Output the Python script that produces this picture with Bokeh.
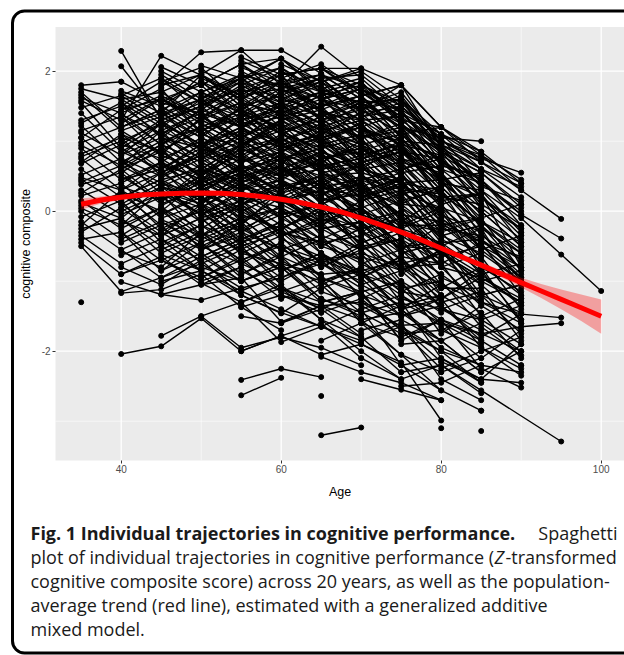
from bokeh.plotting import figure
from bokeh.models import Range1d, FixedTicker, Label, BoxAnnotation, LinearAxis
from bokeh.embed import file_html
from bokeh.resources import INLINE

# ---------------- data ----------------
wave_step = 5  # years between waves

# each inner list: one participant, values at consecutive 5-year waves from the cohort's first age
cohort_35 = [
    [1.80, 1.85, 1.55, 1.40, 1.20], [1.75, 1.60, 1.70, 1.95, 1.50], [1.70, 1.20, 1.45, 1.10, 0.90],
    [1.62, 1.40, 0.95, 1.30, 1.05], [1.55, 0.90, 1.25, 0.80], [1.48, 1.65, 1.30, 1.50, 1.75],
    [1.40, 0.85, 0.60, 0.95, 0.70], [1.30, 1.50, 1.10, 0.75], [1.22, 0.70, 1.00, 1.20, 0.85],
    [1.15, 1.35, 0.80, 0.55, 0.90], [1.05, 0.60, 0.95, 0.70, 0.40], [0.98, 1.20, 1.40, 1.05],
    [0.90, 0.45, 0.70, 0.30, 0.55], [0.82, 1.05, 0.50, 0.80, 0.60], [0.75, 0.30, 0.55, 0.85],
    [0.68, 0.95, 0.75, 0.40, 0.15], [0.60, 0.20, 0.45, 0.60, 0.30], [0.52, 0.75, 0.25, 0.05, 0.35],
    [0.45, 0.10, 0.40, 0.15], [0.38, 0.55, 0.10, 0.35, -0.10], [0.30, -0.05, 0.20, -0.15, 0.05],
    [0.22, 0.40, -0.10, 0.10, -0.30], [0.15, -0.25, 0.05, -0.35], [0.08, 0.25, -0.20, 0.00, -0.45],
    [0.00, -0.40, -0.15, -0.50, -0.25], [-0.08, 0.15, -0.45, -0.20], [-0.15, -0.55, -0.30, -0.65, -0.40],
    [-0.25, -0.10, -0.60, -0.35, -0.70], [-0.35, -0.75, -0.50, -0.85], [-0.45, -0.90, -0.70, -1.00, -0.80],
    [-0.50, -1.15, -0.95, -0.75, -1.10], [-1.30],
    [1.58, 1.30, 1.62, 1.15, 1.35], [1.26, 1.55, 1.05, 1.45], [0.94, 0.65, 1.15, 0.90, 0.62],
    [0.70, 1.10, 0.85, 0.50, 0.95], [0.48, 0.30, 0.70, 0.45, 0.20], [0.26, 0.60, 0.15, 0.50],
    [0.04, -0.20, 0.30, -0.05, 0.25], [-0.20, 0.30, -0.25, -0.55, -0.15], [-0.40, -0.30, -0.85, -0.45, -0.95],
    [1.05, 1.45, 1.60, 1.30],
    [1.66, 1.15, 1.35, 1.60, 1.25], [1.12, 0.80, 1.25, 0.95, 1.15], [0.78, 1.00, 0.60, 0.95, 0.50],
    [0.42, 0.65, 0.35, 0.10, 0.45], [0.12, -0.10, 0.35, 0.20, -0.20], [-0.30, 0.05, -0.35, -0.10, -0.55],
]
cohort_40 = [
    [2.29, 1.30, 1.55, 1.20, 1.45], [2.07, 1.35, 1.70, 1.90], [1.30, 2.22, 1.94, 1.60, 1.85],
    [1.72, 1.50, 1.85, 1.40, 1.20], [1.65, 1.90, 1.40, 1.70], [1.55, 1.20, 1.60, 1.25, 0.95],
    [1.45, 1.75, 1.10, 0.90, 1.30], [1.35, 0.95, 1.30, 1.55, 1.10], [1.20, 1.45, 0.85, 1.15],
    [1.10, 0.70, 1.05, 0.75, 0.50], [1.00, 1.25, 0.95, 0.60, 0.85], [0.90, 0.55, 0.80, 1.10, 0.70],
    [0.80, 1.05, 0.45, 0.75], [0.70, 0.40, 0.65, 0.30, 0.55], [0.60, 0.85, 0.50, 0.20, 0.05],
    [0.50, 0.15, 0.45, 0.60, 0.25], [0.40, 0.70, 0.20, -0.10], [0.30, -0.05, 0.25, 0.05, -0.30],
    [0.20, 0.45, -0.15, 0.15, -0.20], [0.10, -0.30, 0.05, -0.40, -0.15], [0.00, 0.25, -0.35, -0.10, -0.55],
    [-0.10, -0.50, -0.20, -0.60], [-0.20, 0.05, -0.55, -0.30, -0.80], [-0.30, -0.70, -0.45, -0.90, -0.60],
    [-0.45, -0.20, -0.75, -0.50, -1.05], [-0.55, -0.95, -0.65, -1.00], [-0.63, -0.40, -0.85, -1.14, -0.90],
    [-0.80, -1.05, -0.70, -1.20, -1.45], [-1.01, -1.19, -1.27, -1.10, -0.95], [-1.17, -1.12, -0.90, -1.37, -1.70],
    [-2.04, -1.93, -1.53, -2.00, -1.78], [1.85],
    [1.68, 1.40, 1.95, 1.65, 1.45], [1.50, 1.85, 1.55, 1.35, 1.70], [1.38, 1.10, 1.45, 1.80, 1.50],
    [1.25, 1.60, 1.25, 0.95], [1.05, 0.85, 1.20, 1.45, 1.00], [0.85, 1.15, 0.60, 0.95, 1.25],
    [0.65, 0.95, 0.70, 0.40, 0.75], [0.45, 0.60, 0.05, 0.40, 0.15], [0.25, 0.00, 0.45, 0.10, 0.40],
    [0.05, 0.35, -0.05, -0.30, 0.10], [-0.15, -0.35, 0.10, -0.45, -0.25], [-0.35, 0.00, -0.40, -0.15, -0.70],
    [-0.58, -0.80, -0.30, -0.70, -0.45], [-0.90, -0.65, -1.05, -0.80, -1.25],
    [1.60, 1.25, 1.50, 1.75, 1.35], [1.40, 1.65, 1.35, 1.05, 1.40], [1.15, 0.80, 1.35, 1.00, 0.75],
    [0.95, 1.30, 0.90, 1.20, 0.90], [0.75, 0.50, 0.85, 0.55, 0.30], [0.55, 0.90, 0.35, 0.55, 0.80],
    [0.35, 0.15, 0.60, 0.25, -0.05], [0.15, 0.55, 0.20, -0.20, 0.30],
]
cohort_45 = [
    [2.06, 1.80, 2.10, 1.75, 1.50], [1.77, 2.27, 2.30, 2.30, 1.97], [1.95, 1.60, 1.85, 2.18, 1.70],
    [1.85, 2.05, 1.55, 1.40, 1.65], [1.70, 1.35, 1.65, 1.20], [1.60, 1.80, 1.30, 1.50, 1.10],
    [1.50, 1.15, 1.45, 0.95, 0.70], [1.40, 1.60, 1.20, 1.35, 1.00], [1.28, 0.95, 1.30, 0.85, 1.15],
    [1.15, 1.40, 0.90, 0.65], [1.05, 0.75, 1.10, 0.80, 0.45], [0.95, 1.20, 0.70, 0.95, 0.55],
    [0.85, 0.50, 0.85, 0.40, 0.20], [0.75, 1.00, 0.55, 0.30], [0.65, 0.35, 0.60, 0.75, 0.35],
    [0.55, 0.80, 0.35, 0.10, 0.40], [0.45, 0.15, 0.50, 0.20, -0.15], [0.35, 0.60, 0.10, 0.35],
    [0.25, -0.05, 0.30, -0.10, -0.40], [0.15, 0.40, -0.15, 0.05, -0.30], [0.05, -0.25, 0.10, -0.35, -0.10],
    [-0.05, 0.20, -0.30, -0.55], [-0.15, -0.45, -0.20, -0.65, -0.90], [-0.25, 0.00, -0.50, -0.30, -0.75],
    [-0.40, -0.70, -0.45, -0.85], [-0.55, -0.30, -0.75, -1.00, -0.70], [-0.70, -0.95, -0.65, -1.15, -1.40],
    [-0.85, -0.60, -1.00, -0.80, -1.25], [-1.00, -0.85, -1.20, -1.46, -1.10], [-1.19, -1.05, -0.95, -1.58, -1.35],
    [-1.78, -1.50, -1.30, -1.87, -1.65],
    [2.00, 1.70, 1.95, 1.60, 1.85], [1.80, 1.95, 1.50, 1.85, 1.45], [1.62, 1.30, 1.75, 1.55, 1.25],
    [1.45, 1.70, 1.40, 1.10, 1.35], [1.25, 1.50, 1.05, 1.30, 0.90], [1.05, 0.90, 1.35, 0.95, 0.65],
    [0.88, 1.15, 0.65, 0.50, 0.85], [0.68, 0.45, 0.90, 0.60, 0.30], [0.48, 0.75, 0.40, 0.65, 0.10],
    [0.28, 0.10, 0.55, 0.15, -0.20], [0.08, 0.35, -0.05, -0.25, 0.05], [-0.12, -0.35, 0.05, -0.40, -0.65],
    [-0.35, -0.10, -0.60, -0.35, -0.95], [-0.62, -0.85, -0.55, -0.95, -0.75],
    [1.90, 1.55, 1.90, 1.45, 1.70], [1.55, 1.85, 1.45, 1.75, 1.30], [1.35, 1.05, 1.50, 1.15, 0.85],
    [1.10, 1.35, 1.00, 0.70, 1.05], [0.90, 0.60, 0.95, 1.15, 0.60], [0.60, 0.90, 0.45, 0.25, 0.65],
    [0.40, 0.25, 0.65, 0.40, 0.05], [0.20, 0.50, 0.00, 0.25, -0.35],
]
cohort_50 = [
    [2.08, 1.90, 2.18, 1.85, 2.04], [1.95, 2.30, 1.80, 1.60, 1.45], [1.85, 1.60, 1.95, 2.04, 1.70],
    [1.60, 1.95, 1.77, 2.35, 1.90], [1.65, 1.40, 1.70, 1.30, 1.05], [1.55, 1.75, 1.35, 1.10, 1.40],
    [1.45, 1.20, 1.50, 1.25, 0.85], [1.35, 1.55, 1.10, 0.80, 0.60], [1.25, 0.95, 1.30, 1.00, 1.20],
    [1.15, 1.40, 0.90, 0.60], [1.05, 0.80, 1.05, 0.70, 0.35], [0.95, 1.20, 0.75, 0.95, 0.55],
    [0.85, 0.55, 0.80, 0.40, 0.15], [0.75, 1.00, 0.50, 0.25, 0.45], [0.65, 0.35, 0.60, 0.20, -0.10],
    [0.55, 0.80, 0.30, 0.50, 0.10], [0.45, 0.20, 0.45, 0.05, -0.25], [0.35, 0.60, 0.15, -0.15],
    [0.25, 0.00, 0.25, -0.10, -0.45], [0.15, 0.40, -0.10, 0.10, -0.30], [0.05, -0.25, 0.00, -0.40, -0.70],
    [-0.05, 0.15, -0.35, -0.20, -0.55], [-0.20, -0.45, -0.15, -0.60, -0.90], [-0.35, -0.10, -0.55, -0.80, -0.50],
    [-0.50, -0.75, -0.45, -0.95, -1.20], [-0.65, -0.40, -0.85, -0.65, -1.05], [-0.80, -1.00, -0.75, -1.25, -1.50],
    [-0.95, -0.70, -1.10, -1.40, -1.15], [-1.03, -1.30, -1.05, -1.55, -1.80], [-1.50, -1.95, -1.80, -1.95, -2.20],
    [2.00, 1.80, 2.05, 1.70, 1.55], [1.80, 2.10, 1.65, 1.90, 1.40], [1.70, 1.45, 1.85, 1.50, 1.75],
    [1.50, 1.85, 1.45, 1.20, 0.95], [1.30, 1.05, 1.40, 1.15, 0.70], [1.10, 1.35, 0.95, 0.70, 1.00],
    [0.90, 0.70, 1.00, 0.55, 0.25], [0.70, 0.95, 0.55, 0.75, 0.35], [0.50, 0.30, 0.65, 0.30, 0.00],
    [0.30, 0.55, 0.10, -0.20, 0.15], [0.10, -0.15, 0.20, -0.25, -0.55], [-0.10, 0.10, -0.30, -0.50, -0.25],
    [-0.30, -0.55, -0.25, -0.75, -1.00], [-0.55, -0.35, -0.70, -1.05, -0.80],
    [1.90, 1.65, 2.00, 1.60, 1.30], [1.62, 1.90, 1.55, 1.35, 1.60], [1.40, 1.20, 1.55, 1.00, 0.80],
    [1.20, 1.45, 1.15, 0.85, 0.55], [1.00, 0.75, 1.10, 0.90, 0.40], [0.80, 1.05, 0.60, 0.35, 0.70],
    [0.60, 0.45, 0.75, 0.10, 0.30], [0.40, 0.65, 0.25, 0.45, -0.15],
]
cohort_55 = [
    [2.20, 1.95, 2.04, 1.80, 1.50], [2.10, 2.18, 1.75, 1.55, 1.20], [2.00, 1.70, 1.90, 1.45, 1.80],
    [1.90, 2.05, 1.60, 1.85, 1.30], [1.80, 1.50, 1.70, 1.20, 0.95], [1.70, 1.85, 1.40, 1.05, 1.25],
    [1.60, 1.30, 1.55, 1.30, 0.80], [1.50, 1.65, 1.15, 0.90, 0.55], [1.40, 1.10, 1.35, 0.75, 1.00],
    [1.30, 1.45, 0.95, 0.60], [1.20, 0.90, 1.10, 0.65, 0.30], [1.10, 1.25, 0.75, 0.85, 0.40],
    [1.00, 0.70, 0.90, 0.35, 0.05], [0.90, 1.05, 0.55, 0.20, 0.45], [0.80, 0.50, 0.70, 0.30, -0.20],
    [0.70, 0.85, 0.35, 0.05, -0.35], [0.60, 0.30, 0.50, -0.05, 0.15], [0.50, 0.65, 0.15, -0.30],
    [0.40, 0.10, 0.30, -0.20, -0.60], [0.30, 0.45, -0.05, -0.45, -0.25], [0.20, -0.10, 0.10, -0.50, -0.85],
    [0.10, 0.25, -0.25, -0.15, -0.70], [0.00, -0.30, -0.45, -0.75, -1.05], [-0.10, 0.05, -0.60, -0.95, -0.65],
    [-0.25, -0.55, -0.35, -0.90, -1.30], [-0.40, -0.20, -0.75, -1.10, -1.50], [-0.55, -0.85, -0.60, -1.25, -1.00],
    [-0.70, -0.50, -1.00, -1.45, -1.75], [-0.85, -1.15, -0.95, -1.60, -1.35], [-1.00, -0.80, -1.30, -1.15, -1.85],
    [-1.14, -1.40, -1.65, -1.90, -2.20], [-1.30, -1.10, -1.55, -2.00, -2.40], [-1.37, -1.20, -1.45],
    [-1.50, -1.60, -1.35, -1.75], [-2.00, -1.78, -1.60, -2.10], [-2.41, -2.25, -2.37], [-2.63, -2.38],
    [2.15, 1.90, 2.10, 1.70, 1.35], [1.95, 1.80, 1.50, 1.65, 1.05], [1.75, 1.95, 1.30, 1.45, 1.10],
    [1.55, 1.40, 1.65, 1.00, 0.70], [1.35, 1.55, 1.05, 1.20, 0.60], [1.15, 1.00, 1.25, 0.70, 0.85],
    [0.95, 1.20, 0.65, 0.45, 0.20], [0.75, 0.60, 0.85, 0.15, 0.40], [0.55, 0.80, 0.25, 0.40, -0.10],
    [0.35, 0.15, 0.40, -0.10, -0.45], [0.15, 0.40, -0.15, 0.05, -0.55], [-0.05, -0.25, 0.05, -0.55, -0.30],
    [-0.30, -0.05, -0.50, -0.70, -1.15], [-0.60, -0.75, -0.90, -0.85, -1.40], [-0.90, -0.65, -1.15, -1.35, -1.65],
    [2.05, 1.85, 1.95, 1.60, 1.45], [1.85, 1.60, 1.80, 1.35, 1.55], [1.65, 1.75, 1.45, 1.10, 0.90],
    [1.45, 1.20, 1.40, 0.95, 0.65], [1.25, 1.40, 1.00, 0.60, 0.95], [1.05, 0.85, 1.05, 0.50, 0.30],
    [0.85, 1.00, 0.60, 0.70, 0.15], [0.65, 0.45, 0.75, 0.25, -0.05],
]
cohort_60 = [
    [2.10, 1.85, 2.00, 1.60, 1.00], [1.95, 2.04, 2.04, 1.80, 1.20], [1.85, 1.60, 1.75, 1.35, 0.95],
    [1.75, 1.90, 1.45, 1.10, 0.70], [1.65, 1.35, 1.55, 1.25, 0.80], [1.55, 1.70, 1.20, 0.85, 0.50],
    [1.45, 1.15, 1.30, 0.95, 0.35], [1.35, 1.50, 0.95, 0.60, 0.80], [1.25, 0.95, 1.10, 0.50, 0.15],
    [1.15, 1.30, 0.70, 0.85, 0.40], [1.05, 0.75, 0.90, 0.40, -0.05], [0.95, 1.10, 0.50, 0.15, 0.30],
    [0.85, 0.55, 0.65, 0.05, -0.30], [0.75, 0.90, 0.30, -0.10, -0.50], [0.65, 0.35, 0.45, -0.20, 0.05],
    [0.55, 0.70, 0.10, -0.35, -0.70], [0.45, 0.15, 0.25, -0.30, -0.55], [0.35, 0.50, -0.10, -0.55, -0.20],
    [0.25, -0.05, 0.05, -0.50, -0.90], [0.15, 0.30, -0.30, -0.70, -1.05], [0.05, -0.25, -0.15, -0.85, -0.60],
    [-0.05, 0.10, -0.50, -0.40, -1.20], [-0.20, -0.45, -0.35, -1.00, -1.35], [-0.35, -0.15, -0.70, -1.15, -0.90],
    [-0.50, -0.70, -0.60, -1.30, -1.60], [-0.65, -0.40, -0.95, -1.50, -1.25], [-0.80, -1.00, -0.85, -1.40, -1.85],
    [-0.95, -0.70, -1.20, -1.70, -2.00], [-1.10, -1.30, -1.15, -1.85, -1.55], [-1.25, -1.05, -1.55, -2.05, -2.30],
    [-1.45, -1.65, -1.40, -2.20, -2.56], [-1.60, -1.40, -1.80, -2.30], [-1.78, -2.05, -1.90, -2.16, -2.99],
    [2.00, 1.75, 1.90, 1.40, 0.90], [1.80, 1.95, 1.60, 1.20, 0.60], [1.60, 1.45, 1.65, 1.05, 0.45],
    [1.40, 1.60, 1.15, 0.75, 0.60], [1.20, 1.05, 1.25, 0.65, 0.10], [1.00, 1.20, 0.80, 0.30, 0.25],
    [0.80, 0.65, 0.75, 0.20, -0.40], [0.60, 0.80, 0.35, -0.05, -0.15], [0.40, 0.25, 0.40, -0.40, -0.75],
    [0.20, 0.45, -0.05, -0.25, -0.95], [0.00, -0.15, 0.05, -0.60, -0.45], [-0.25, 0.00, -0.40, -0.80, -1.10],
    [-0.55, -0.75, -0.45, -1.05, -1.45], [-0.85, -0.60, -1.05, -1.35, -1.20], [-1.20, -1.35, -1.30, -1.65, -2.15],
    [1.90, 1.70, 1.85, 1.25, 0.85], [1.70, 1.85, 1.35, 1.00, 0.75], [1.50, 1.25, 1.50, 0.90, 0.30],
    [1.30, 1.45, 1.00, 0.55, 0.65], [1.10, 0.90, 1.05, 0.35, 0.00], [0.90, 1.05, 0.60, 0.45, -0.25],
    [0.70, 0.50, 0.55, -0.15, 0.20], [0.50, 0.60, 0.20, -0.30, -0.60],
]
cohort_65 = [
    [2.04, 1.65, 1.80, 1.20, 0.85], [1.90, 1.95, 1.50, 1.05, 1.00], [1.75, 1.45, 1.65, 0.95, 0.60],
    [1.60, 1.75, 1.25, 0.70, 0.40], [1.45, 1.20, 1.40, 0.85, 0.20], [1.30, 1.55, 1.00, 0.45, 0.55],
    [1.15, 0.95, 1.10, 0.55, -0.05], [1.00, 1.25, 0.70, 0.15, 0.25], [0.85, 0.65, 0.85, 0.30, -0.30],
    [0.70, 0.95, 0.40, -0.05, -0.45], [0.55, 0.35, 0.55, -0.15, -0.65], [0.40, 0.65, 0.10, -0.35, -0.20],
    [0.25, 0.05, 0.25, -0.45, -0.85], [0.10, 0.35, -0.25, -0.70, -1.05], [-0.05, -0.25, -0.10, -0.80, -0.60],
    [-0.20, 0.05, -0.50, -0.55, -1.25], [-0.35, -0.55, -0.40, -1.05, -1.45], [-0.50, -0.25, -0.80, -1.25, -0.95],
    [-0.65, -0.85, -0.70, -1.40, -1.70], [-0.80, -0.55, -1.10, -1.60, -1.90], [-0.95, -1.15, -1.00, -1.75, -1.35],
    [-1.10, -0.90, -1.40, -1.95, -2.20], [-1.25, -1.45, -1.30, -2.10, -2.45], [-1.45, -1.25, -1.70, -2.25, -2.00],
    [-1.65, -1.85, -1.60, -2.40, -2.70], [-1.85, -1.60, -2.05, -2.56, -2.85], [-2.08, -2.30, -2.45, -2.70],
    [-2.64], [-3.20, -3.09],
    [1.95, 1.75, 1.45, 1.10, 0.75], [1.70, 1.55, 1.60, 0.80, 0.45], [1.50, 1.65, 1.15, 0.60, 0.15],
    [1.25, 1.05, 1.20, 0.40, 0.30], [1.05, 1.20, 0.75, 0.25, -0.15], [0.80, 0.60, 0.70, 0.05, -0.40],
    [0.60, 0.80, 0.30, -0.20, -0.10], [0.35, 0.20, 0.35, -0.40, -0.70], [0.15, 0.40, -0.05, -0.60, -0.95],
    [-0.10, -0.30, 0.00, -0.65, -0.50], [-0.40, -0.15, -0.55, -0.90, -1.30], [-0.70, -0.90, -0.65, -1.30, -1.15],
    [-1.00, -0.80, -1.20, -1.55, -1.85], [-1.35, -1.55, -1.45, -1.85, -2.30],
    [1.85, 1.50, 1.70, 1.00, 0.70], [1.65, 1.80, 1.30, 0.90, 0.35], [1.40, 1.30, 1.35, 0.65, 0.50],
    [1.20, 1.40, 0.90, 0.50, 0.05], [0.95, 0.80, 0.95, 0.20, 0.10], [0.75, 0.90, 0.50, 0.10, -0.55],
    [0.50, 0.30, 0.45, -0.25, -0.35], [0.30, 0.50, 0.05, -0.50, -0.80],
]
cohort_70 = [
    [1.80, 1.55, 1.00, 0.75, 0.55], [1.65, 1.80, 0.90, 0.60, 0.20], [1.50, 1.20, 1.05, 0.40, 0.00],
    [1.35, 1.45, 0.70, 0.20, -0.20], [1.20, 0.95, 0.80, 0.05, -0.40], [1.05, 1.15, 0.45, -0.10, 0.10],
    [0.90, 0.70, 0.55, -0.25, -0.60], [0.75, 0.90, 0.20, -0.40, -0.80], [0.60, 0.40, 0.30, -0.55, -0.35],
    [0.45, 0.60, -0.05, -0.30, -1.00], [0.30, 0.10, 0.05, -0.75, -1.20], [0.15, 0.30, -0.30, -0.90, -0.75],
    [0.00, -0.20, -0.20, -0.65, -1.40], [-0.15, 0.00, -0.55, -1.05, -1.55], [-0.30, -0.50, -0.45, -1.20, -1.05],
    [-0.45, -0.25, -0.80, -1.35, -1.70], [-0.60, -0.80, -0.75, -1.50, -1.25], [-0.75, -0.55, -1.10, -1.10, -1.85],
    [-0.90, -1.10, -1.00, -1.65, -2.06], [-1.05, -0.85, -1.35, -1.80, -1.47], [-1.20, -1.40, -1.25, -1.95, -2.35],
    [-1.40, -1.20, -1.65, -2.10, -1.70], [-1.60, -1.80, -1.55, -2.25, -2.52], [-1.85, -1.65, -2.00, -2.45],
    [-2.10, -2.40, -2.20, -2.60], [-2.40, -2.55, -2.70],
    [1.75, 1.40, 1.10, 0.60, 0.35], [1.45, 1.60, 0.85, 0.45, -0.05], [1.15, 1.00, 0.95, 0.20, -0.25],
    [0.85, 1.05, 0.40, 0.00, -0.50], [0.55, 0.40, 0.45, -0.35, -0.70], [0.25, 0.50, -0.10, -0.50, -0.95],
    [-0.05, -0.25, 0.00, -0.80, -1.15], [-0.35, -0.10, -0.60, -1.00, -0.85], [-0.65, -0.85, -0.55, -1.30, -1.60],
    [-0.95, -0.70, -1.20, -1.55, -1.35], [-1.30, -1.50, -1.35, -1.85, -2.20], [-1.70, -1.55, -1.85, -2.30, -2.00],
    [1.70, 1.30, 1.20, 0.70, 0.40], [1.40, 1.50, 0.95, 0.35, 0.15], [1.10, 0.85, 0.75, 0.30, -0.30],
    [0.80, 0.95, 0.50, -0.15, -0.45], [0.50, 0.25, 0.35, -0.20, -0.85], [0.20, 0.40, -0.15, -0.45, -0.65],
]
cohort_75 = [
    [1.40, 0.95, 0.70, 0.30, -0.11], [1.10, 1.20, 0.80, 0.45], [0.85, 0.60, 0.40, -0.05, -0.39],
    [0.60, 0.75, 0.10, -0.25], [0.35, 0.20, 0.25, -0.45], [0.10, 0.35, -0.20, -0.70],
    [-0.15, -0.30, -0.10, -0.85], [-0.40, -0.10, -0.55, -1.00], [-0.65, -0.75, -0.45, -1.20],
    [-0.90, -0.55, -0.90, -1.35], [-1.15, -1.25, -0.85, -1.55], [-1.40, -1.05, -1.30, -1.47, -1.52],
    [-1.63, -1.60, -1.75, -1.65, -1.60], [-1.90, -1.85, -1.60, -2.00], [-2.20, -2.10, -2.40, -1.90],
    [-2.50, -2.45, -2.20], [-2.30, -2.20, -2.56, None, -3.29],
    [1.60, 1.10, 0.85, 0.40], [1.20, 0.85, 0.55, 0.10], [0.75, 0.45, 0.20, -0.35], [0.25, 0.05, -0.15, -0.60],
    [-0.25, -0.45, -0.40, -0.95], [-0.75, -0.60, -0.95, -1.25], [-1.25, -1.40, -1.20, -1.75],
    [-1.75, -1.70, -1.95, -2.25],
]
cohort_80 = [
    [1.00, 0.80, 0.30], [0.70, 0.45, -0.20], [0.40, 0.00, -0.50], [0.10, 0.25, -0.80],
    [-0.20, -0.40, -0.90], [-0.50, -0.25, -1.10], [-0.80, -0.95, -1.30], [-1.10, -0.80, -1.60],
    [-1.40, -1.55, -1.90], [-1.70, -1.45, -2.10], [-2.00, -2.20, -2.30], [-2.30, -2.10], [-3.10],
    [0.85, 0.55, 0.05], [0.25, -0.15, -0.55], [-0.35, -0.60, -1.00], [-0.95, -1.20, -1.45],
    [-1.55, -1.75, -2.00], [-2.15, -2.40, -2.45],
]
cohort_85 = [
    [0.30, -0.10, -0.62, -1.14], [-0.50, -0.80], [-1.20, -1.05], [-2.00, -1.80],
    [-1.00, -1.30], [-2.85], [-3.14],
]
cohort_90 = [[-0.30], [-1.60], [-2.20]]

cohort_first_age = [35, 40, 45, 50, 55, 60, 65, 70, 75, 80, 85, 90]
cohort_lists = [cohort_35, cohort_40, cohort_45, cohort_50, cohort_55, cohort_60,
                cohort_65, cohort_70, cohort_75, cohort_80, cohort_85, cohort_90]

# population-average GAM trend and its confidence band
gam_age = [35, 37.5, 40, 42.5, 45, 47.5, 50, 52.5, 55, 57.5, 60, 62.5, 65, 67.5,
           70, 72.5, 75, 77.5, 80, 82.5, 85, 87.5, 90, 92.5, 95, 97.5, 100]
gam_fit = [0.10, 0.16, 0.20, 0.23, 0.245, 0.255, 0.26, 0.255, 0.24, 0.21, 0.17, 0.12, 0.06, -0.01,
           -0.10, -0.20, -0.30, -0.41, -0.53, -0.65, -0.77, -0.895, -1.02, -1.14, -1.26, -1.38, -1.50]
gam_lo = [0.02, 0.11, 0.16, 0.20, 0.215, 0.225, 0.23, 0.225, 0.21, 0.18, 0.14, 0.09, 0.03, -0.04,
          -0.13, -0.23, -0.33, -0.44, -0.56, -0.69, -0.81, -0.945, -1.09, -1.24, -1.40, -1.57, -1.75]
gam_hi = [0.18, 0.21, 0.24, 0.26, 0.275, 0.285, 0.29, 0.285, 0.27, 0.24, 0.20, 0.15, 0.09, 0.02,
          -0.07, -0.17, -0.27, -0.38, -0.50, -0.61, -0.73, -0.845, -0.95, -1.04, -1.12, -1.19, -1.26]

x_ticks = [40, 60, 80, 100]
x_minor = [50, 70, 90]
y_ticks = [-2, 0, 2]
y_minor = [-3, -1, 1]
panel_x = (31.79, 102.91)   # ggplot panel limits (age)
panel_y = (-3.56, 2.63)     # ggplot panel limits (score)

caption_bold = "Fig. 1 Individual trajectories in cognitive performance."
caption_rows = [
    "Spaghetti",
    "plot of individual trajectories in cognitive performance (",
    "Z",
    "-transformed",
    "cognitive composite score) across 20 years, as well as the population-",
    "average trend (red line), estimated with a generalized additive",
    "mixed model.",
]

# ---------------- build ----------------
line_xs, line_ys, pt_x, pt_y = [], [], [], []
for first, group in zip(cohort_first_age, cohort_lists):
    for traj in group:
        ages = [first + wave_step * i for i, v in enumerate(traj) if v is not None]
        vals = [v for v in traj if v is not None]
        if len(ages) > 1:
            line_xs.append(ages)
            line_ys.append(vals)
        pt_x.extend(ages)
        pt_y.extend(vals)

W, H = 624, 655
p = figure(width=W, height=H, output_backend="svg", toolbar_location=None,
           x_range=Range1d(24.9125, 102.9125), y_range=Range1d(-6.347, 3.01),
           x_axis_type=None, y_axis_type=None,
           min_border=0, min_border_left=0, min_border_right=0, min_border_top=0, min_border_bottom=0)
p.background_fill_color = "white"
p.border_fill_color = "white"
p.outline_line_color = None
p.extra_x_ranges = {"px": Range1d(0, W)}
p.extra_y_ranges = {"px": Range1d(H, 0)}

# grey ggplot panel
p.add_layout(BoxAnnotation(left=panel_x[0], right=panel_x[1], bottom=panel_y[0], top=panel_y[1],
                           fill_color="#EBEBEB", fill_alpha=1, line_color=None, level="image"))
# grid lines (white, inside the panel only)
p.segment(x0=x_minor, x1=x_minor, y0=[panel_y[0]] * len(x_minor), y1=[panel_y[1]] * len(x_minor),
          line_color="white", line_width=0.6, level="underlay")
p.segment(x0=[panel_x[0]] * len(y_minor), x1=[panel_x[1]] * len(y_minor), y0=y_minor, y1=y_minor,
          line_color="white", line_width=0.6, level="underlay")
p.segment(x0=x_ticks, x1=x_ticks, y0=[panel_y[0]] * len(x_ticks), y1=[panel_y[1]] * len(x_ticks),
          line_color="white", line_width=1.3, level="underlay")
p.segment(x0=[panel_x[0]] * len(y_ticks), x1=[panel_x[1]] * len(y_ticks), y0=y_ticks, y1=y_ticks,
          line_color="white", line_width=1.3, level="underlay")

xaxis = LinearAxis(fixed_location=panel_y[0], ticker=FixedTicker(ticks=x_ticks), bounds=panel_x)
yaxis = LinearAxis(fixed_location=panel_x[0], ticker=FixedTicker(ticks=y_ticks), bounds=panel_y)
p.add_layout(xaxis, "below")
p.add_layout(yaxis, "left")
for ax in (xaxis, yaxis):
    ax.axis_line_color = None
    ax.major_tick_line_color = "#333333"
    ax.major_tick_line_width = 1
    ax.major_tick_in = 0
    ax.major_tick_out = 3
    ax.minor_tick_line_color = None
    ax.major_label_text_color = "#4D4D4D"
    ax.major_label_text_font = "Liberation Sans"
    ax.major_label_text_font_size = "10px"
    ax.axis_label_text_font = "Liberation Sans"
    ax.axis_label_text_font_size = "12.5px"
    ax.axis_label_text_font_style = "normal"
    ax.axis_label_text_color = "black"
xaxis.axis_label = "Age"
yaxis.axis_label = "cognitive composite"
xaxis.major_label_standoff = 2
xaxis.axis_label_standoff = 8
yaxis.major_label_standoff = 2
yaxis.axis_label_standoff = 6
yaxis.major_label_overrides = {-2: "-2", 0: "0", 2: "2"}

# data
p.multi_line(line_xs, line_ys, line_color="black", line_width=1.4)
p.scatter(pt_x, pt_y, size=5, color="black")
p.varea(x=gam_age, y1=gam_lo, y2=gam_hi, fill_color="red", fill_alpha=0.32)
p.line(gam_age, gam_fit, line_color="#FF0000", line_width=5)

# rounded outer frame (pixel coordinates)
p.add_layout(BoxAnnotation(left=12, right=700, top=10.5, bottom=652.5,
                           x_range_name="px", y_range_name="px",
                           fill_color=None, fill_alpha=0, line_color="black", line_alpha=1,
                           line_width=3, border_radius=12, level="overlay"))

cap_font = "Open Sans"
cap_size = "18px"
row_y = [532, 556, 580, 604, 628]

def cap(text, x, y, align="left", style="normal"):
    p.add_layout(Label(x=x, y=y, x_range_name="px", y_range_name="px", text=text,
                       text_font=cap_font, text_font_size=cap_size, text_font_style=style,
                       text_align=align, text_baseline="middle", text_color="#1A1A1A"))

cap(caption_bold, 30, row_y[0], style="bold")
cap(caption_rows[0], 617, row_y[0], align="right")
cap(caption_rows[1], 30, row_y[1])
cap(caption_rows[2], 494, row_y[1], style="italic")
cap(caption_rows[3], 505, row_y[1])
cap(caption_rows[4], 30, row_y[2])
cap(caption_rows[5], 30, row_y[3])
cap(caption_rows[6], 30, row_y[4])

open("out.html", "w").write(file_html(p, INLINE))
